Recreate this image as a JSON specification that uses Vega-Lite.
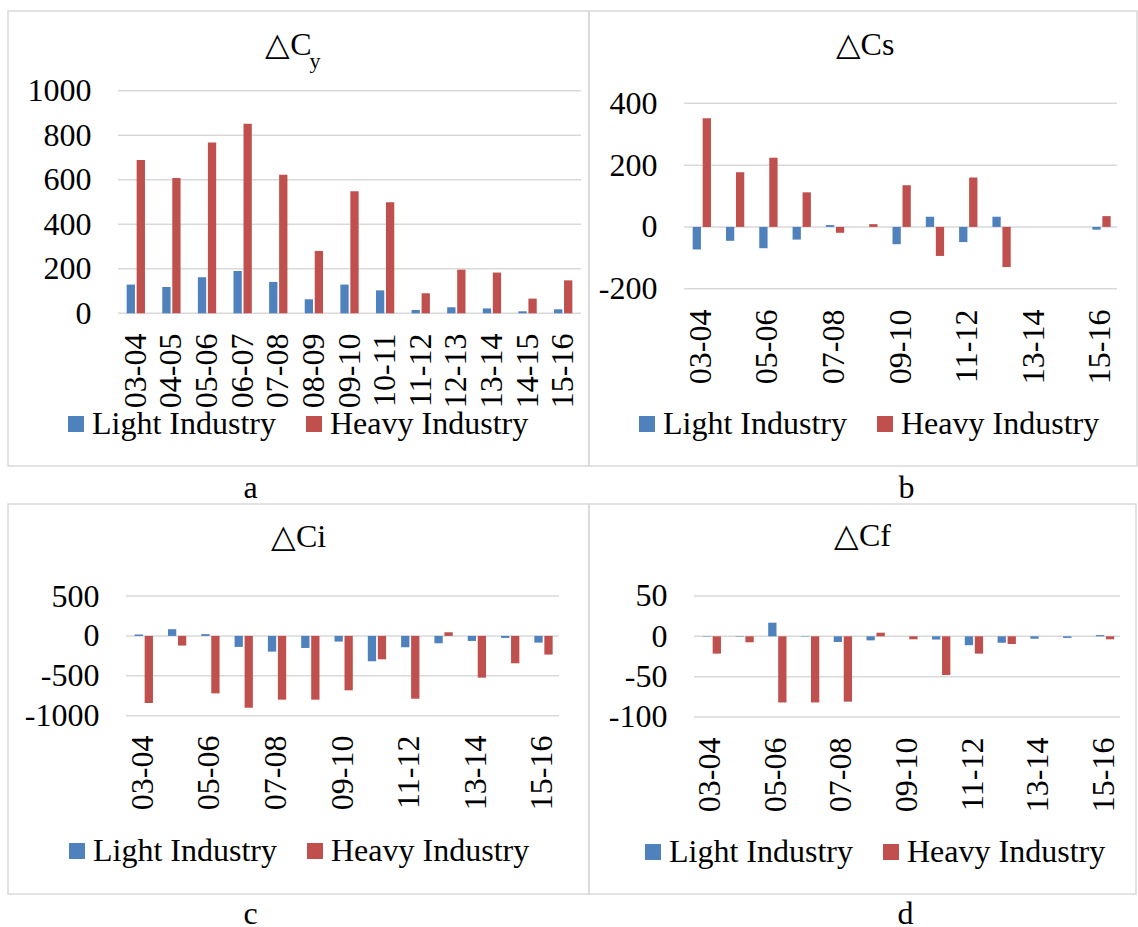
{
  "$schema": "https://vega.github.io/schema/vega-lite/v6.json",
  "padding": {"left": 7, "top": 10, "right": 0, "bottom": 0},
  "background": "white",
  "datasets": {
    "a": [
      {"cat": "03-04", "s": "Light Industry", "v": 129}, {"cat": "04-05", "s": "Light Industry", "v": 118}, {"cat": "05-06", "s": "Light Industry", "v": 162}, {"cat": "06-07", "s": "Light Industry", "v": 190}, {"cat": "07-08", "s": "Light Industry", "v": 141}, {"cat": "08-09", "s": "Light Industry", "v": 63}, {"cat": "09-10", "s": "Light Industry", "v": 129}, {"cat": "10-11", "s": "Light Industry", "v": 103}, {"cat": "11-12", "s": "Light Industry", "v": 15}, {"cat": "12-13", "s": "Light Industry", "v": 27}, {"cat": "13-14", "s": "Light Industry", "v": 22}, {"cat": "14-15", "s": "Light Industry", "v": 9}, {"cat": "15-16", "s": "Light Industry", "v": 18},
      {"cat": "03-04", "s": "Heavy Industry", "v": 689}, {"cat": "04-05", "s": "Heavy Industry", "v": 608}, {"cat": "05-06", "s": "Heavy Industry", "v": 767}, {"cat": "06-07", "s": "Heavy Industry", "v": 851}, {"cat": "07-08", "s": "Heavy Industry", "v": 622}, {"cat": "08-09", "s": "Heavy Industry", "v": 280}, {"cat": "09-10", "s": "Heavy Industry", "v": 548}, {"cat": "10-11", "s": "Heavy Industry", "v": 499}, {"cat": "11-12", "s": "Heavy Industry", "v": 90}, {"cat": "12-13", "s": "Heavy Industry", "v": 196}, {"cat": "13-14", "s": "Heavy Industry", "v": 183}, {"cat": "14-15", "s": "Heavy Industry", "v": 66}, {"cat": "15-16", "s": "Heavy Industry", "v": 148}
    ],
    "b": [
      {"cat": "03-04", "s": "Light Industry", "v": -73}, {"cat": "04-05", "s": "Light Industry", "v": -45}, {"cat": "05-06", "s": "Light Industry", "v": -69}, {"cat": "06-07", "s": "Light Industry", "v": -41}, {"cat": "07-08", "s": "Light Industry", "v": 6}, {"cat": "08-09", "s": "Light Industry", "v": 0}, {"cat": "09-10", "s": "Light Industry", "v": -56}, {"cat": "10-11", "s": "Light Industry", "v": 33}, {"cat": "11-12", "s": "Light Industry", "v": -49}, {"cat": "12-13", "s": "Light Industry", "v": 33}, {"cat": "13-14", "s": "Light Industry", "v": 0}, {"cat": "14-15", "s": "Light Industry", "v": 0}, {"cat": "15-16", "s": "Light Industry", "v": -9},
      {"cat": "03-04", "s": "Heavy Industry", "v": 352}, {"cat": "04-05", "s": "Heavy Industry", "v": 177}, {"cat": "05-06", "s": "Heavy Industry", "v": 224}, {"cat": "06-07", "s": "Heavy Industry", "v": 112}, {"cat": "07-08", "s": "Heavy Industry", "v": -19}, {"cat": "08-09", "s": "Heavy Industry", "v": 9}, {"cat": "09-10", "s": "Heavy Industry", "v": 135}, {"cat": "10-11", "s": "Heavy Industry", "v": -94}, {"cat": "11-12", "s": "Heavy Industry", "v": 160}, {"cat": "12-13", "s": "Heavy Industry", "v": -130}, {"cat": "13-14", "s": "Heavy Industry", "v": 0}, {"cat": "14-15", "s": "Heavy Industry", "v": 0}, {"cat": "15-16", "s": "Heavy Industry", "v": 35}
    ],
    "c": [
      {"cat": "03-04", "s": "Light Industry", "v": 18}, {"cat": "04-05", "s": "Light Industry", "v": 84}, {"cat": "05-06", "s": "Light Industry", "v": 22}, {"cat": "06-07", "s": "Light Industry", "v": -138}, {"cat": "07-08", "s": "Light Industry", "v": -197}, {"cat": "08-09", "s": "Light Industry", "v": -151}, {"cat": "09-10", "s": "Light Industry", "v": -71}, {"cat": "10-11", "s": "Light Industry", "v": -318}, {"cat": "11-12", "s": "Light Industry", "v": -142}, {"cat": "12-13", "s": "Light Industry", "v": -92}, {"cat": "13-14", "s": "Light Industry", "v": -63}, {"cat": "14-15", "s": "Light Industry", "v": -25}, {"cat": "15-16", "s": "Light Industry", "v": -84},
      {"cat": "03-04", "s": "Heavy Industry", "v": -841}, {"cat": "04-05", "s": "Heavy Industry", "v": -121}, {"cat": "05-06", "s": "Heavy Industry", "v": -720}, {"cat": "06-07", "s": "Heavy Industry", "v": -900}, {"cat": "07-08", "s": "Heavy Industry", "v": -799}, {"cat": "08-09", "s": "Heavy Industry", "v": -799}, {"cat": "09-10", "s": "Heavy Industry", "v": -682}, {"cat": "10-11", "s": "Heavy Industry", "v": -293}, {"cat": "11-12", "s": "Heavy Industry", "v": -787}, {"cat": "12-13", "s": "Heavy Industry", "v": 46}, {"cat": "13-14", "s": "Heavy Industry", "v": -523}, {"cat": "14-15", "s": "Heavy Industry", "v": -343}, {"cat": "15-16", "s": "Heavy Industry", "v": -234}
    ],
    "d": [
      {"cat": "03-04", "s": "Light Industry", "v": -0.5}, {"cat": "04-05", "s": "Light Industry", "v": -0.5}, {"cat": "05-06", "s": "Light Industry", "v": 16.9}, {"cat": "06-07", "s": "Light Industry", "v": -0.5}, {"cat": "07-08", "s": "Light Industry", "v": -7}, {"cat": "08-09", "s": "Light Industry", "v": -5}, {"cat": "09-10", "s": "Light Industry", "v": 0}, {"cat": "10-11", "s": "Light Industry", "v": -4}, {"cat": "11-12", "s": "Light Industry", "v": -11}, {"cat": "12-13", "s": "Light Industry", "v": -8}, {"cat": "13-14", "s": "Light Industry", "v": -3}, {"cat": "14-15", "s": "Light Industry", "v": -2}, {"cat": "15-16", "s": "Light Industry", "v": 1.5},
      {"cat": "03-04", "s": "Heavy Industry", "v": -21.5}, {"cat": "04-05", "s": "Heavy Industry", "v": -7.4}, {"cat": "05-06", "s": "Heavy Industry", "v": -82}, {"cat": "06-07", "s": "Heavy Industry", "v": -82}, {"cat": "07-08", "s": "Heavy Industry", "v": -81}, {"cat": "08-09", "s": "Heavy Industry", "v": 4.5}, {"cat": "09-10", "s": "Heavy Industry", "v": -3.7}, {"cat": "10-11", "s": "Heavy Industry", "v": -48}, {"cat": "11-12", "s": "Heavy Industry", "v": -21.5}, {"cat": "12-13", "s": "Heavy Industry", "v": -9.5}, {"cat": "13-14", "s": "Heavy Industry", "v": 0}, {"cat": "14-15", "s": "Heavy Industry", "v": 0}, {"cat": "15-16", "s": "Heavy Industry", "v": -3.7}
    ],
    "ga": [{"v": 0}, {"v": 200}, {"v": 400}, {"v": 600}, {"v": 800}, {"v": 1000}],
    "gb": [{"v": -200}, {"v": 0}, {"v": 200}, {"v": 400}],
    "gc": [{"v": -1000}, {"v": -500}, {"v": 0}, {"v": 500}],
    "gd": [{"v": -100}, {"v": -50}, {"v": 0}, {"v": 50}]
  },
  "columns": 2,
  "bounds": "flush",
  "spacing": {"row": 38, "column": 0},
  "resolve": {"scale": {"color": "independent"}, "legend": {"color": "independent"}},
  "concat": [
    {
      "width": 581, "height": 455,
      "title": {"text": "△C", "anchor": "middle", "dx": -10, "offset": -51},
      "encoding": {
        "y": {"field": "v", "type": "quantitative", "scale": {"domain": [-686, 1358], "nice": false, "zero": false},
          "axis": {"title": "y", "titleAngle": 0, "titleX": 218, "titleY": 56.5, "titleAlign": "left", "titleBaseline": "alphabetic", "titleFontSize": 22,
            "values": [0, 200, 400, 600, 800, 1000], "offset": -83, "labelExpr": "'' + datum.value"}}
      },
      "layer": [
        {
          "data": {"name": "ga"},
          "mark": {"type": "rule", "color": "#d9d9d9", "strokeWidth": 1.5},
          "encoding": {
            "x": {"datum": "03-04", "type": "nominal", "bandPosition": 0},
            "x2": {"datum": "15-16", "bandPosition": 1}
          }
        },
        {
          "data": {"name": "a"},
          "mark": {"type": "bar"},
          "encoding": {
            "x": {"field": "cat", "type": "nominal",
              "scale": {"domain": ["03-04","04-05","05-06","06-07","07-08","08-09","09-10","10-11","11-12","12-13","13-14","14-15","15-16"], "range": [110, 573], "paddingInner": 0, "paddingOuter": 0},
              "axis": {"title": "a", "titleX": 242, "titleY": 164, "labelAngle": -90, "offset": -133}},
            "xOffset": {"field": "s", "type": "nominal", "scale": {"domain": ["Light Industry", "Heavy Industry"], "paddingInner": 0.17, "paddingOuter": 0.865}},
            "color": {"field": "s", "type": "nominal", "scale": {"domain": ["Light Industry", "Heavy Industry"], "range": ["#4f81bd", "#c0504d"]},
              "legend": {"orient": "none", "legendX": 52, "legendY": 397}}
          }
        }
      ]
    },
    {
      "width": 548, "height": 455,
      "title": {"text": "△Cs", "anchor": "middle", "dx": 2, "offset": -51},
      "encoding": {
        "y": {"field": "v", "type": "quantitative", "scale": {"domain": [-774, 699], "nice": false, "zero": false},
          "axis": {"title": null, "values": [-200, 0, 200, 400], "offset": -68, "labelExpr": "'' + datum.value"}}
      },
      "layer": [
        {
          "data": {"name": "gb"},
          "mark": {"type": "rule", "color": "#d9d9d9", "strokeWidth": 1.5},
          "encoding": {
            "x": {"datum": "03-04", "type": "nominal", "bandPosition": 0},
            "x2": {"datum": "15-16", "bandPosition": 1}
          }
        },
        {
          "data": {"name": "b"},
          "mark": {"type": "bar"},
          "encoding": {
            "x": {"field": "cat", "type": "nominal",
              "scale": {"domain": ["03-04","04-05","05-06","06-07","07-08","08-09","09-10","10-11","11-12","12-13","13-14","14-15","15-16"], "range": [95, 528], "paddingInner": 0, "paddingOuter": 0},
              "axis": {"title": "b", "titleX": 317, "titleY": 188, "labelAngle": -90, "offset": -157, "values": ["03-04","05-06","07-08","09-10","11-12","13-14","15-16"]}},
            "xOffset": {"field": "s", "type": "nominal", "scale": {"domain": ["Light Industry", "Heavy Industry"], "paddingInner": 0.2, "paddingOuter": 0.82}},
            "color": {"field": "s", "type": "nominal", "scale": {"domain": ["Light Industry", "Heavy Industry"], "range": ["#4f81bd", "#c0504d"]},
              "legend": {"orient": "none", "legendX": 42, "legendY": 397}}
          }
        }
      ]
    },
    {
      "width": 581, "height": 390,
      "title": {"text": "△Ci", "anchor": "middle", "offset": -50},
      "encoding": {
        "y": {"field": "v", "type": "quantitative", "scale": {"domain": [-3234, 1653], "nice": false, "zero": false},
          "axis": {"title": null, "values": [-1000, -500, 0, 500], "offset": -91, "labelExpr": "'' + datum.value"}}
      },
      "layer": [
        {
          "data": {"name": "gc"},
          "mark": {"type": "rule", "color": "#d9d9d9", "strokeWidth": 1.5},
          "encoding": {
            "x": {"datum": "03-04", "type": "nominal", "bandPosition": 0},
            "x2": {"datum": "15-16", "bandPosition": 1}
          }
        },
        {
          "data": {"name": "c"},
          "mark": {"type": "bar"},
          "encoding": {
            "x": {"field": "cat", "type": "nominal",
              "scale": {"domain": ["03-04","04-05","05-06","06-07","07-08","08-09","09-10","10-11","11-12","12-13","13-14","14-15","15-16"], "range": [118, 551], "paddingInner": 0, "paddingOuter": 0},
              "axis": {"title": "c", "titleX": 242, "titleY": 188, "labelAngle": -90, "offset": -159, "values": ["03-04","05-06","07-08","09-10","11-12","13-14","15-16"]}},
            "xOffset": {"field": "s", "type": "nominal", "scale": {"domain": ["Light Industry", "Heavy Industry"], "paddingInner": 0.24, "paddingOuter": 0.856}},
            "color": {"field": "s", "type": "nominal", "scale": {"domain": ["Light Industry", "Heavy Industry"], "range": ["#4f81bd", "#c0504d"]},
              "legend": {"orient": "none", "legendX": 53, "legendY": 331}}
          }
        }
      ]
    },
    {
      "width": 547, "height": 390,
      "title": {"text": "△Cf", "anchor": "middle", "offset": -49},
      "encoding": {
        "y": {"field": "v", "type": "quantitative", "scale": {"domain": [-319.4, 164], "nice": false, "zero": false},
          "axis": {"title": null, "values": [-100, -50, 0, 50], "offset": -78, "labelExpr": "'' + datum.value"}}
      },
      "layer": [
        {
          "data": {"name": "gd"},
          "mark": {"type": "rule", "color": "#d9d9d9", "strokeWidth": 1.5},
          "encoding": {
            "x": {"datum": "03-04", "type": "nominal", "bandPosition": 0},
            "x2": {"datum": "15-16", "bandPosition": 1}
          }
        },
        {
          "data": {"name": "d"},
          "mark": {"type": "bar"},
          "encoding": {
            "x": {"field": "cat", "type": "nominal",
              "scale": {"domain": ["03-04","04-05","05-06","06-07","07-08","08-09","09-10","10-11","11-12","12-13","13-14","14-15","15-16"], "range": [105, 531], "paddingInner": 0, "paddingOuter": 0},
              "axis": {"title": "d", "titleX": 316, "titleY": 186, "labelAngle": -90, "offset": -157, "values": ["03-04","05-06","07-08","09-10","11-12","13-14","15-16"]}},
            "xOffset": {"field": "s", "type": "nominal", "scale": {"domain": ["Light Industry", "Heavy Industry"], "paddingInner": 0.21, "paddingOuter": 0.866}},
            "color": {"field": "s", "type": "nominal", "scale": {"domain": ["Light Industry", "Heavy Industry"], "range": ["#4f81bd", "#c0504d"]},
              "legend": {"orient": "none", "legendX": 48, "legendY": 332}}
          }
        }
      ]
    }
  ],
  "config": {
    "font": "Liberation Serif",
    "view": {"stroke": "#d9d9d9", "strokeWidth": 1.5},
    "axis": {"labelFont": "Liberation Serif", "labelFontSize": 32, "labelColor": "#000000", "domain": false, "ticks": false, "tickSize": 0, "grid": false, "labelPadding": 0, "labelOverlap": false, "labelBound": false, "labelFlush": false,
      "titleFont": "Liberation Serif", "titleFontSize": 32, "titleFontWeight": "normal", "titleColor": "#000000", "titleAngle": 0, "titleAlign": "center", "titleBaseline": "alphabetic", "titlePadding": 0},
    "legend": {"title": null, "direction": "horizontal", "symbolType": "square", "symbolSize": 256, "symbolStrokeWidth": 0, "labelFont": "Liberation Serif", "labelFontSize": 32, "labelColor": "#000000", "labelLimit": 0, "labelOffset": 0, "columnPadding": 22, "padding": 0},
    "title": {"font": "Liberation Serif", "fontSize": 32, "fontWeight": "normal", "color": "#000000", "baseline": "alphabetic"}
  }
}
